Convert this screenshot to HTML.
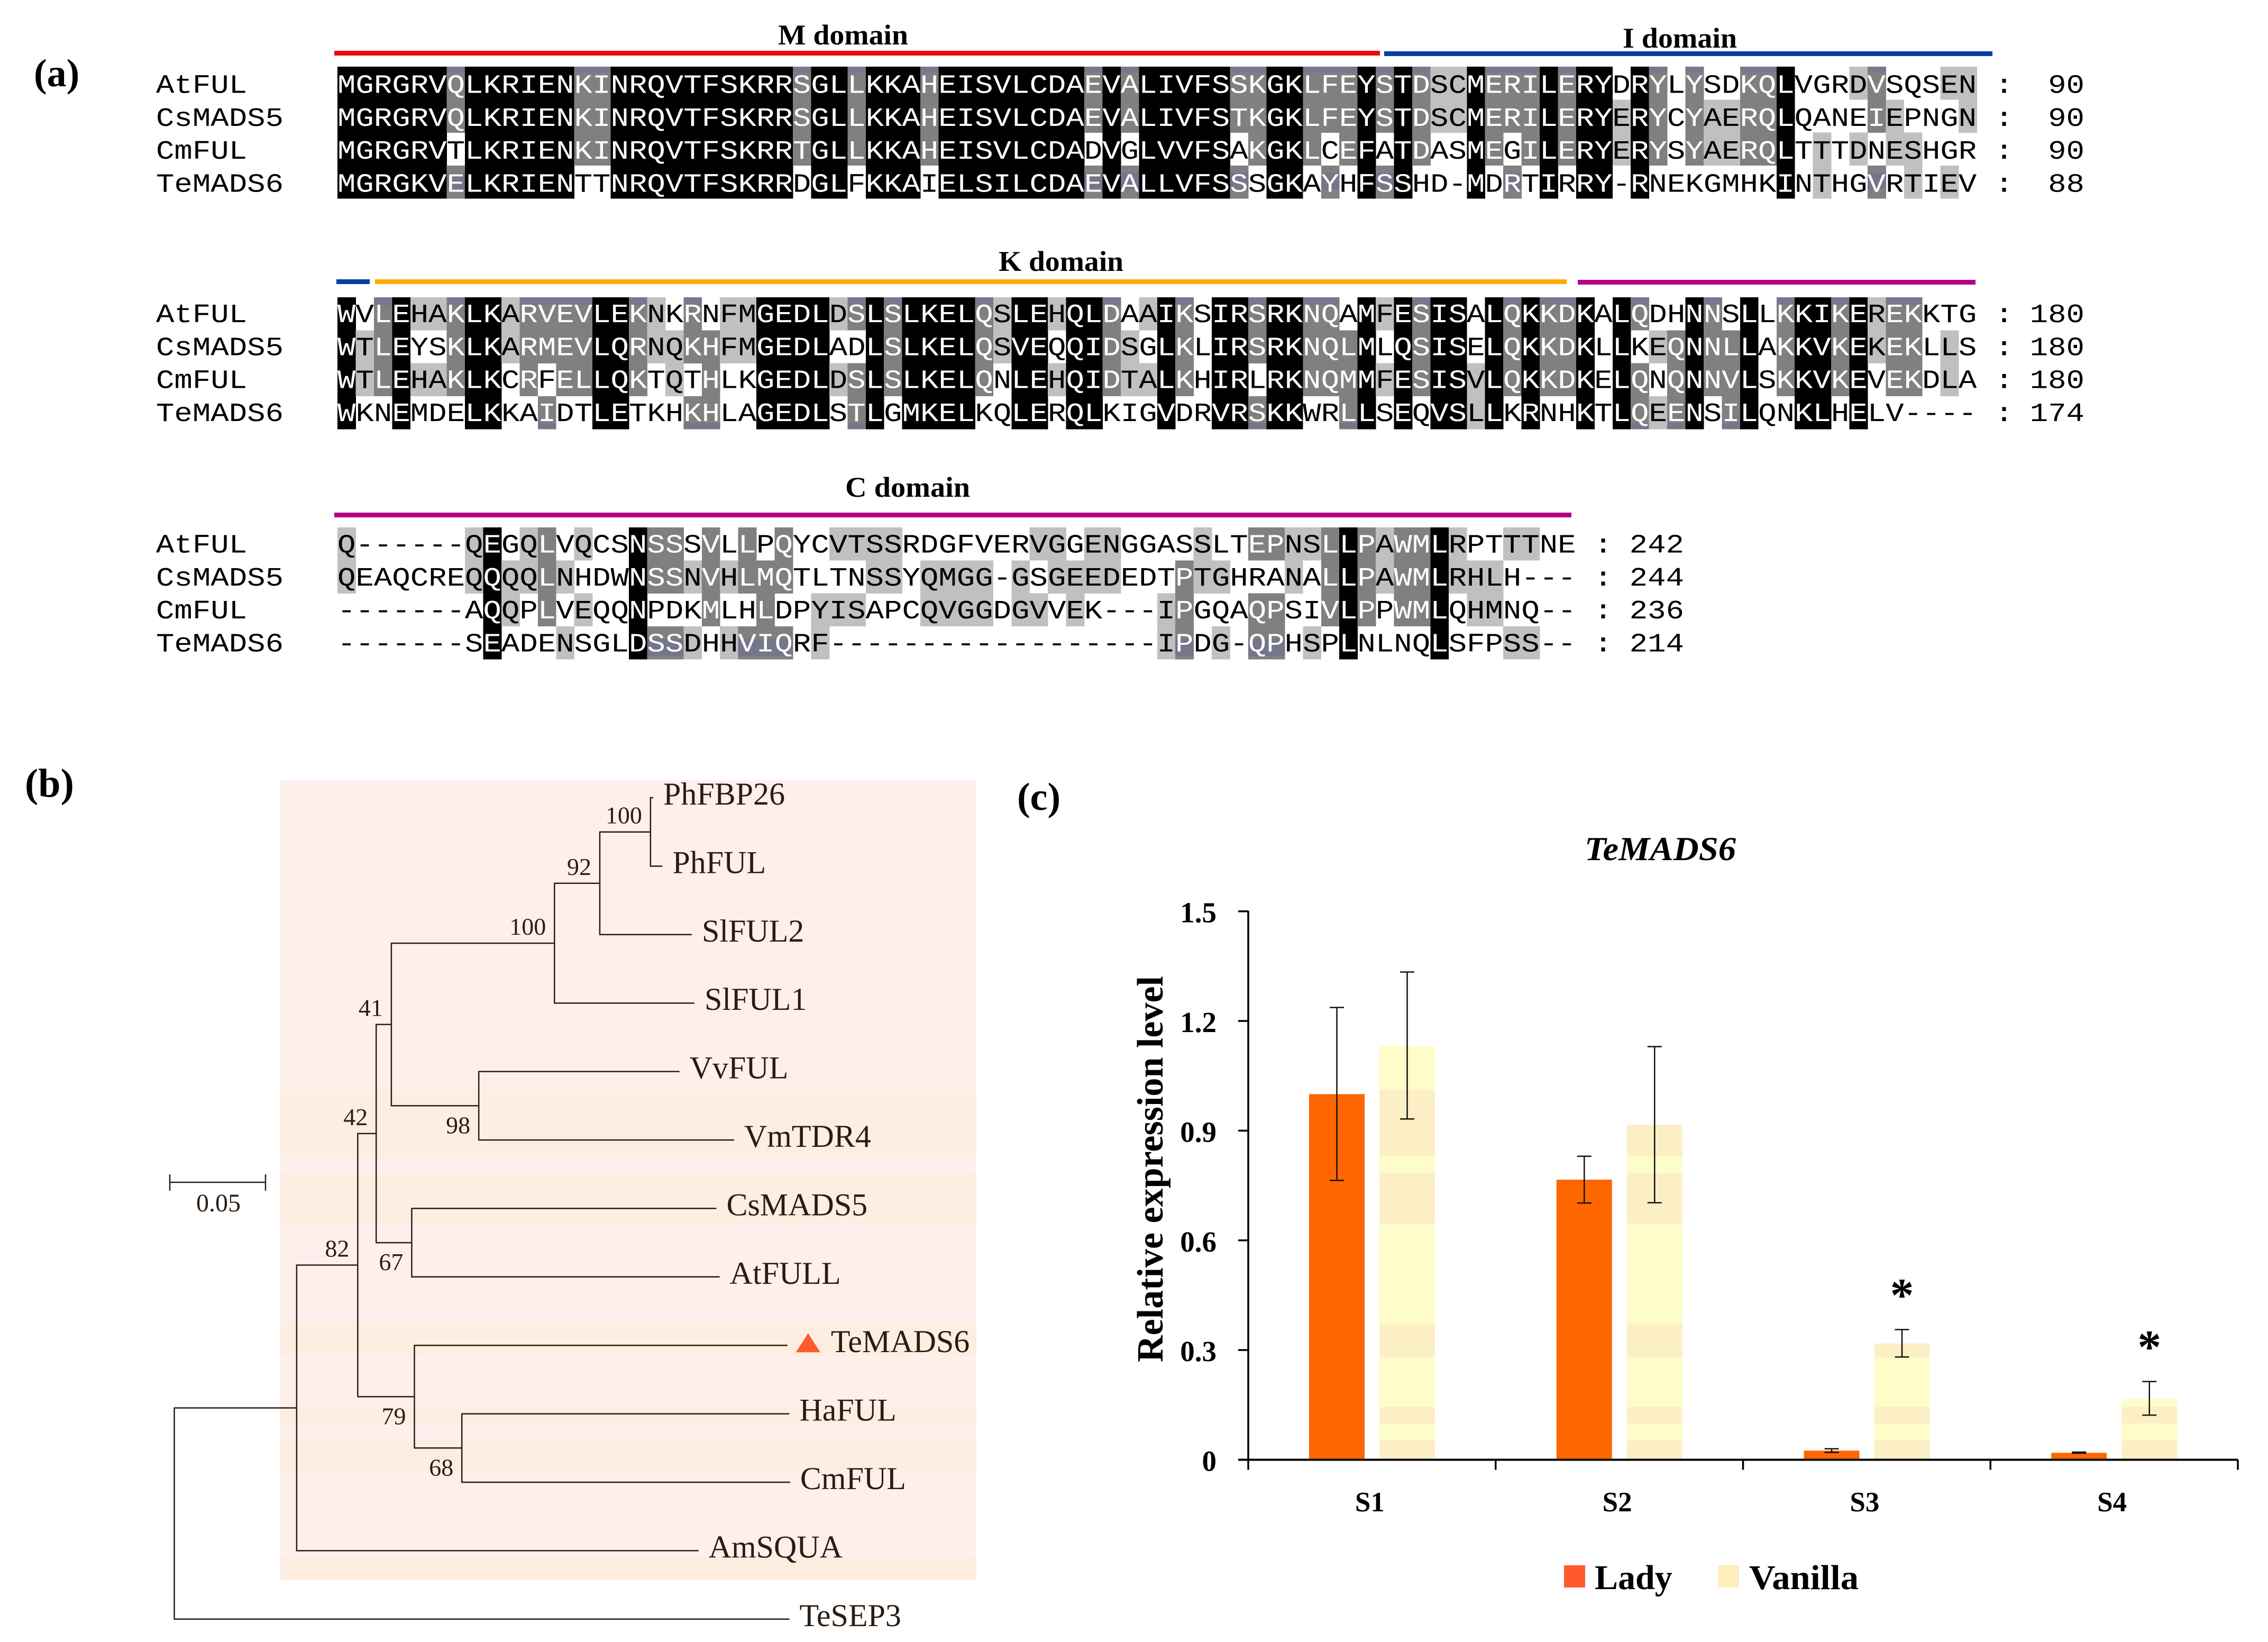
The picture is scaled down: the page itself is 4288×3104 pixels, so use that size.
<!DOCTYPE html>
<html lang="en">
<head>
<meta charset="utf-8">
<title>FUL-like MADS-box alignment, phylogeny and expression</title>
<style>
html,body{margin:0;padding:0;background:#fff;}
svg{display:block;}
.serif{font-family:"Liberation Serif",serif;}
.bold{font-family:"Liberation Serif",serif;font-weight:bold;}
.mono{font-family:"Liberation Mono",monospace;}
</style>
</head>
<body>
<svg id="figure" xmlns="http://www.w3.org/2000/svg" width="4288" height="3104" viewBox="0 0 4288 3104">
  <rect x="0" y="0" width="4288" height="3104" fill="#ffffff"/>
  <text class="bold" x="64" y="163" font-size="74">(a)</text>
  <text class="bold" x="47" y="1506" font-size="76">(b)</text>
  <text class="bold" x="1923" y="1531" font-size="74">(c)</text>

  <rect x="632" y="96" width="1977" height="9" fill="#ee0808"/>
  <rect x="2617" y="97" width="1150" height="9" fill="#0040a0"/>
  <rect x="636" y="528" width="63" height="9" fill="#0040a0"/>
  <rect x="709" y="528" width="2253" height="9" fill="#ffaa00"/>
  <rect x="2983" y="529" width="752" height="9" fill="#b3008a"/>
  <rect x="632" y="969" width="2339" height="9" fill="#b3008a"/>
  <text class="bold" x="1471" y="84" font-size="54" textLength="246" lengthAdjust="spacingAndGlyphs">M domain</text>
  <text class="bold" x="3068" y="90" font-size="54" textLength="216" lengthAdjust="spacingAndGlyphs">I domain</text>
  <text class="bold" x="1888" y="512" font-size="54" textLength="236" lengthAdjust="spacingAndGlyphs">K domain</text>
  <text class="bold" x="1598" y="939" font-size="54" textLength="236" lengthAdjust="spacingAndGlyphs">C domain</text>

  <g id="alignment"></g>

  <g id="tree-panel">
    <rect x="530" y="1475" width="1316" height="1512" fill="#feefed"/>
  </g>
  <g id="tree-bands"></g>
  <g id="tree"></g>
  <g stroke="#2a1c12" stroke-width="2.5" fill="none">
    <line x1="321" y1="2235" x2="502" y2="2235"/>
    <line x1="321" y1="2220" x2="321" y2="2251"/>
    <line x1="502" y1="2220" x2="502" y2="2251"/>
  </g>
  <text class="serif" x="371" y="2290" font-size="48" fill="#2a1c12">0.05</text>

  <defs id="defs"></defs>
  <g id="chart"></g>
  <text class="bold" font-style="italic" x="2996" y="1626" font-size="64" textLength="286" lengthAdjust="spacingAndGlyphs">TeMADS6</text>
  <text class="bold" font-size="70" text-anchor="middle" transform="translate(2198,2210) rotate(-90)" textLength="730" lengthAdjust="spacingAndGlyphs">Relative expression level</text>
  <rect x="2957" y="2959" width="40" height="42" fill="#ff5a2c"/>
  <text class="bold" x="3015" y="3004" font-size="66">Lady</text>
  <rect x="3248" y="2959" width="40" height="42" fill="#fdeebc"/>
  <text class="bold" x="3307" y="3004" font-size="66" textLength="207" lengthAdjust="spacingAndGlyphs">Vanilla</text>
</svg>

<script>
/* ---------- alignment data ---------- */
const speciesNames = ['AtFUL', 'CsMADS5', 'CmFUL', 'TeMADS6'];
const seqBlock1 = [
  'MGRGRVQLKR IENKINRQVT FSKRRSGLLK KAHEISVLCD AEVALIVFSS KGKLFEYSTD SCMERILERY DRYLYSDKQL VGRDVSQSEN',
  'MGRGRVQLKR IENKINRQVT FSKRRSGLLK KAHEISVLCD AEVALIVFST KGKLFEYSTD SCMERILERY ERYCYAERQL QANEIEPNGN',
  'MGRGRVTLKR IENKINRQVT FSKRRTGLLK KAHEISVLCD ADVGLVVFSA KGKLCEFATD ASMEGILERY ERYSYAERQL TTTDNESHGR',
  'MGRGKVELKR IENTTNRQVT FSKRRDGLFK KAIELSILCD AEVALLVFSS SGKAYHFSSH D-MDRTIRRY -RNEKGMHKI NTHGVRTIEV'
];
const shadeBlock1 = [
  'KKKKKKDKKK KKKDDKKKKK KKKKKDKKDK KKDKKKKKKK KDKDKKKKKD DKKDDDKDKD LLKDDDKDKK WKDWDWWDDK WWWLDWWWLL',
  'KKKKKKDKKK KKKDDKKKKK KKKKKDKKDK KKDKKKKKKK KDKDKKKKKD DKKDDDKDKD LLKDDDKDKK LKDWDLLDDK WWWWDLWWWL',
  'KKKKKKWKKK KKKDDKKKKK KKKKKDKKDK KKDKKKKKKK KWKWKKKKKW DKKDWDKWKD WWKDWDKDKK LKDWDLLDDK WLWLWLLWWW',
  'KKKKKKDKKK KKKWWKKKKK KKKKKWKKWK KKWKKKKKKK KDKDKKKKKD WKKWDWKDKW WWKWDWKWKK WKWWWWWWWK WLWWDWLWLW'
];
const countBlock1 = ['90', '90', '90', '88'];
const seqBlock2 = [
  'WVLEHAKLKA RVEVLEKNKR NFMGEDLDSL SLKELQSLEH QLDAAIKSIR SRKNQAMFES ISALQKKDKA LQDHNNSLLK KIKEREKKTG',
  'WTLEYSKLKA RMEVLQRNQK HFMGEDLADL SLKELQSVEQ QIDSGLKLIR SRKNQLMLQS ISELQKKDKL LKEQNNLLAK KVKEKEKLLS',
  'WTLEHAKLKC RFELLQKTQT HLKGEDLDSL SLKELQNLEH QIDTALKHIR LRKNQMMFES ISVLQKKDKE LQNQNNVLSK KVKEVEKDLA',
  'WKNEMDELKK AIDTLETKHK HLAGEDLSTL GMKELKQLER QLKIGVDRVR SKKWRLLSEQ VSLLKRNHKT LQEENSILQN KLHELV----'
];
const shadeBlock2 = [
  'KWDKLLDKKL DDDDKKDLWD WLLKKKKLDK DKKKKDLKKL KKDWLKDWKK DKKDDWKLKD KKWKDKDDKW KDWWKDWKWD KKDKLDDWWW',
  'KLDKWWDKKL DDDDKKDLLD DLLKKKKWWK DKKKKDLKKW KKDLWKDWKK DKKDDDKWKD KKWKDKDDKW KWLDKDDKWD KKDKLDDWLW',
  'KLDKLLDKKW DWDDKKDWLW DWWKKKKLDK DKKKKDWKKL KKDLLKDWKK WKKDDDKLKD KKLKDKDDKW KDWDKDDKWD KKDKWDDWLW',
  'KWWKWWWKKW WDWWKKWWWD DWWKKKKWDK WKKKKWWKKW KKWWWKWWKK DKKWWDKWKW KKLKWKWWKW KDLDKWDKWW KKWKWWWWWW'
];
const countBlock2 = ['180', '180', '180', '174'];
const seqBlock3 = [
  'Q------QEG QLVQCSNSSS VLLPQYCVTS SRDGFVERVG GENGGASSLT EPNSLLPAWM LRPTTTNE',
  'QEAQCREQQQ QLNHDWNSSN VHLMQTLTNS SYQMGG-GSG EEDEDTPTGH RANALLPAWM LRHLH---',
  '-------AQQ PLVEQQNPDK MLHLDPYISA PCQVGGDGVV EK---IPGQA QPSIVLPPWM LQHMNQ--',
  '-------SEA DENSGLDSSD HHVIQRF--- ---------- -----IPDG- QPHSPLNLNQ LSFPSS--'
];
const shadeBlock3 = [
  'LWWWWWWLKW LDWLWWKDDW DWDWDWWLLL LWWWWWWWLL WLLWWWWLWW DDLLDKDLDD KLWWLLWW',
  'LWWWWWWLKL LDLWWWKDDL DLDDDWWWWL LWLLLLWLWL LLLWWWDLLW WWLWDKDLDD KLLLWWWW',
  'WWWWWWWWKL WDWLWWKWWW DWWDWWLLLW WWLLLLWLLW LWWWWLDWWW DDWWDKDWDD KWLLWWWW',
  'WWWWWWWWKW WWLWWWKDDL WLDDDWLWWW WWWWWWWWWW WWWWWLDWLW DDWLWKWWWW KWWWLLWW'
];
const countBlock3 = ['242', '244', '236', '214'];

/* ---------- tree data ---------- */
const taxa = ['PhFBP26','PhFUL','SlFUL2','SlFUL1','VvFUL','VmTDR4','CsMADS5','AtFULL','TeMADS6','HaFUL','CmFUL','AmSQUA','TeSEP3'];
const taxonParents = ['n100b','n100b','n92','n100','n98','n98','n67','n67','n79','n68','n68','nA','root'];
const taxonLengths = [0.0014,0.0062,0.0479,0.0729,0.1045,0.1329,0.1586,0.1603,0.1942,0.1705,0.1709,0.2092,0.3202];
const cladeIds = ['nA','n82','n42','n41','n100','n92','n100b','n98','n67','n79','n68'];
const cladeParents = ['root','nA','n82','n42','n41','n100','n92','n41','n42','n82','n79'];
const cladeLengths = [0.0637,0.0318,0.0096,0.0079,0.0849,0.0236,0.0264,0.0455,0.0185,0.0295,0.0247];
const cladeSupport = [null,82,42,41,100,92,100,98,67,79,68];

/* ---------- bar chart data ---------- */
const stages = ['S1','S2','S3','S4'];
const ladyValues = [1.0,0.766,0.025,0.019];
const ladyUpper = [1.237,0.83,0.03,0.021];
const ladyLower = [0.764,0.702,0.02,0.018];
const vanillaValues = [1.131,0.916,0.318,0.166];
const vanillaUpper = [1.334,1.13,0.356,0.214];
const vanillaLower = [0.932,0.703,0.281,0.122];
const significance = ['','','*','*'];
const yTickValues = [0,0.3,0.6,0.9,1.2,1.5];
const yTickLabels = ['0','0.3','0.6','0.9','1.2','1.5'];
const vanillaStripeBreaks = [1.5,1.012,0.83,0.784,0.646,0.373,0.281,0.144,0.099,0.053,0];

const NS = 'http://www.w3.org/2000/svg';
function mk(tag, attrs, parent) {
  const el = document.createElementNS(NS, tag);
  for (const k in attrs) el.setAttribute(k, attrs[k]);
  parent.appendChild(el);
  return el;
}

/* ---------- alignment drawing ---------- */
const COL_W = 34.44, ROW_H = 62.25, X0 = 638, NAME_X = 295, MONO_SIZE = 50, TEXT_SX = 34.44 / (MONO_SIZE * 0.6001);
const SHADE_COLORS = { K: '#000000', D: '#808080', L: '#c0c0c0', W: '#ffffff' };
const alignmentRoot = document.getElementById('alignment');

function drawBlock(blockName, top, baseOff, seqs, shades, counts, colonX, countRight, topBand, bottomBand) {
  const blockG = mk('g', {}, alignmentRoot);
  
  
  seqs.forEach(function (rawSeq, r) {
    const seq = rawSeq.replace(/ /g, '');
    const shade = shades[r].replace(/ /g, '');
    const y = top + r * ROW_H;
    const base = y + baseOff;
    const rowG = mk('g', {}, blockG);
    
    
    for (let c = 0; c < seq.length; c++) {
      const code = shade[c];
      if (code === 'W') continue;
      const cell = mk('rect', { x: X0 + c * COL_W, y: y, width: COL_W + 0.4, height: ROW_H + 0.4, fill: SHADE_COLORS[code], 'shape-rendering': 'crispEdges' }, rowG);
      
      
      if (code === 'D' && r === 0 && topBand) {
        const band = mk('rect', { x: X0 + c * COL_W, y: y, width: COL_W + 0.4, height: topBand, fill: '#77778e', 'shape-rendering': 'crispEdges' }, rowG);
        
        
      }
      if (code === 'D' && r === 3 && bottomBand) {
        const band2 = mk('rect', { x: X0 + c * COL_W, y: y + bottomBand[0], width: COL_W + 0.4, height: bottomBand[1], fill: '#75758b', 'shape-rendering': 'crispEdges' }, rowG);
        
        
      }
    }
    const nameText = mk('text', { class: 'mono', 'font-size': MONO_SIZE, transform: 'translate(' + NAME_X + ',' + base + ') scale(' + TEXT_SX + ',1)', fill: '#000' }, rowG);
    nameText.textContent = speciesNames[r];
    
    
    const colon = mk('text', { class: 'mono', 'font-size': MONO_SIZE, 'font-weight': 'bold', 'text-anchor': 'middle', x: colonX, y: base, fill: '#000' }, rowG);
    colon.textContent = ':';
    
    
    const seqText = mk('text', { class: 'mono', 'font-size': MONO_SIZE, transform: 'translate(' + X0 + ',' + base + ') scale(' + TEXT_SX + ',1)', 'xml:space': 'preserve' }, rowG);
    
    
    let start = 0;
    for (let c = 1; c <= seq.length; c++) {
      const light = function (i) { return shade[i] === 'K' || shade[i] === 'D'; };
      if (c === seq.length || light(c) !== light(start)) {
        const run = mk('tspan', { fill: light(start) ? '#ffffff' : '#000000' }, seqText);
        run.textContent = seq.slice(start, c);
        start = c;
      }
    }
    const count = mk('text', { class: 'mono', 'font-size': MONO_SIZE, 'text-anchor': 'end', transform: 'translate(' + countRight + ',' + base + ') scale(' + TEXT_SX + ',1)', fill: '#000' }, rowG);
    count.textContent = counts[r];
    
    
  });
}
drawBlock('alignment-block-1', 126, 49.5, seqBlock1, shadeBlock1, countBlock1, 3789, 3941, 11, [14, 31]);
drawBlock('alignment-block-2', 562, 47, seqBlock2, shadeBlock2, countBlock2, 3789, 3941, 15, [51, 10]);
drawBlock('alignment-block-3', 997, 47.5, seqBlock3, shadeBlock3, countBlock3, 3031, 3184, 0, [24, 32]);

/* ---------- tree background bands ---------- */
const bandTops = [2062, 2215, 2501, 2659, 2722, 2941];
const bandBottoms = [2187, 2314, 2563, 2691, 2784, 2987];
const bandsRoot = document.getElementById('tree-bands');
bandTops.forEach(function (t, i) {
  const b = mk('rect', { x: 530, y: t, width: 1316, height: bandBottoms[i] - t, fill: '#fdeee1' }, bandsRoot);
  
  
});

/* ---------- tree drawing ---------- */
const treeRoot = document.getElementById('tree');
const ROOT_X = 329.5, UNIT = 3632, TIP_Y0 = 1508, TIP_STEP = 129.4;
const TREE_INK = '#2a1c12';
const allIds = ['root'].concat(cladeIds);
function childrenOf(id) {
  const kids = [];
  taxa.forEach(function (n, i) { if (taxonParents[i] === id) kids.push({ tip: i }); });
  cladeIds.forEach(function (n, i) { if (cladeParents[i] === id) kids.push({ clade: i }); });
  return kids;
}
function nodeX(id) {
  if (id === 'root') return ROOT_X;
  const i = cladeIds.indexOf(id);
  return nodeX(cladeParents[i]) + cladeLengths[i] * UNIT;
}
function kidY(k) { return k.tip !== undefined ? TIP_Y0 + k.tip * TIP_STEP : nodeY(cladeIds[k.clade]); }
function kidRange(id) {
  const ys = childrenOf(id).map(kidY);
  return [Math.min.apply(null, ys), Math.max.apply(null, ys)];
}
function nodeY(id) { const r = kidRange(id); return (r[0] + r[1]) / 2; }

allIds.forEach(function (id) {
  const x = nodeX(id);
  const r = kidRange(id);
  const v = mk('line', { x1: x, y1: r[0], x2: x, y2: r[1], stroke: TREE_INK, 'stroke-width': 2.5 }, treeRoot);
  
  
});
cladeIds.forEach(function (id, i) {
  const y = nodeY(id);
  const x = nodeX(id);
  const h = mk('line', { x1: nodeX(cladeParents[i]) - 1, y1: y, x2: x, y2: y, stroke: TREE_INK, 'stroke-width': 2.5 }, treeRoot);
  
  
  if (cladeSupport[i] !== null) {
    const siblingYs = childrenOf(cladeParents[i]).map(kidY);
    const isLower = y === Math.max.apply(null, siblingYs);
    const label = mk('text', { class: 'serif', 'font-size': 46, 'text-anchor': 'end', x: x - 16, y: isLower ? y + 52 : y - 16, fill: TREE_INK }, treeRoot);
    label.textContent = String(cladeSupport[i]);
    
    
  }
});
taxa.forEach(function (name, i) {
  const y = TIP_Y0 + i * TIP_STEP;
  const px = nodeX(taxonParents[i]);
  const x = px + taxonLengths[i] * UNIT;
  const h = mk('line', { x1: px - 1, y1: y, x2: x, y2: y, stroke: TREE_INK, 'stroke-width': 2.5 }, treeRoot);
  
  
  const isFocus = name === 'TeMADS6';
  if (isFocus) {
    const tri = mk('polygon', { points: (x + 16) + ',' + (y + 13) + ' ' + (x + 39) + ',' + (y - 23) + ' ' + (x + 62) + ',' + (y + 13), fill: '#ff5a30' }, treeRoot);
    
    
  }
  const t = mk('text', { class: 'serif', 'font-size': 60, x: x + (isFocus ? 82 : 19), y: y + 13, fill: TREE_INK }, treeRoot);
  t.textContent = name;
  
  
});

/* ---------- bar chart drawing ---------- */
const chartRoot = document.getElementById('chart');
const AXIS_X = 2360, AXIS_RIGHT = 4231, Y_ZERO = 2759.5, Y_TOP = 1722.7, Y_MAX = 1.5;
const GROUP_W = (AXIS_RIGHT - AXIS_X) / stages.length;
const BAR_W = 105, BAR_OFFSET = 115, BAR_GAP = 28;
function yScale(v) { return Y_ZERO - (v / Y_MAX) * (Y_ZERO - Y_TOP); }
function barX(i, series) { return AXIS_X + i * GROUP_W + BAR_OFFSET + series * (BAR_W + BAR_GAP); }

const grad = mk('linearGradient', { id: 'vanillaStripes', gradientUnits: 'userSpaceOnUse', x1: 0, x2: 0, y1: yScale(Y_MAX), y2: yScale(0) }, document.getElementById('defs'));
for (let i = 0; i < vanillaStripeBreaks.length - 1; i++) {
  const color = i % 2 === 0 ? '#fefdc9' : '#fcefc6';
  mk('stop', { offset: 1 - vanillaStripeBreaks[i] / Y_MAX, 'stop-color': color }, grad);
  mk('stop', { offset: 1 - vanillaStripeBreaks[i + 1] / Y_MAX, 'stop-color': color }, grad);
}

function drawError(x, hi, lo, name) {
  const cap = 13.5;
  [[x, yScale(hi), x, yScale(lo)], [x - cap, yScale(hi), x + cap, yScale(hi)], [x - cap, yScale(lo), x + cap, yScale(lo)]].forEach(function (p) {
    const l = mk('line', { x1: p[0], y1: p[1], x2: p[2], y2: p[3], stroke: '#111', 'stroke-width': 2.5 }, chartRoot);
    
    
  });
}

stages.forEach(function (stage, i) {
  const lx = barX(i, 0);
  const vx = barX(i, 1);
  const lb = mk('rect', { x: lx, y: yScale(ladyValues[i]), width: BAR_W, height: Y_ZERO - yScale(ladyValues[i]), fill: '#ff6600' }, chartRoot);
  
  
  const vb = mk('rect', { x: vx, y: yScale(vanillaValues[i]), width: BAR_W, height: Y_ZERO - yScale(vanillaValues[i]), fill: 'url(#vanillaStripes)' }, chartRoot);
  
  
  drawError(lx + BAR_W / 2, ladyUpper[i], ladyLower[i], 'error-bar-lady');
  drawError(vx + BAR_W / 2, vanillaUpper[i], vanillaLower[i], 'error-bar-vanilla');
  if (significance[i]) {
    const star = mk('text', { class: 'bold', 'font-size': 90, 'text-anchor': 'middle', x: vx + BAR_W / 2, y: yScale(vanillaUpper[i]) - 35 }, chartRoot);
    star.textContent = significance[i];
    
    
  }
  const lab = mk('text', { class: 'bold', 'font-size': 53, 'text-anchor': 'middle', x: AXIS_X + (i + 0.5) * GROUP_W - 4, y: 2857 }, chartRoot);
  lab.textContent = stage;
  
  
});

const yAxis = mk('line', { x1: AXIS_X, y1: Y_TOP - 1, x2: AXIS_X, y2: Y_ZERO + 2, stroke: '#000', 'stroke-width': 3.5 }, chartRoot);


const xAxis = mk('line', { x1: AXIS_X - 19, y1: Y_ZERO, x2: AXIS_RIGHT, y2: Y_ZERO, stroke: '#000', 'stroke-width': 4 }, chartRoot);


yTickValues.forEach(function (v, i) {
  const tick = mk('line', { x1: AXIS_X - 19, y1: yScale(v), x2: AXIS_X, y2: yScale(v), stroke: '#000', 'stroke-width': 3.5 }, chartRoot);
  
  
  const t = mk('text', { class: 'bold', 'font-size': 55, 'text-anchor': 'end', x: 2300, y: yScale(v) + 21 }, chartRoot);
  t.textContent = yTickLabels[i];
  
  
});
for (let i = 0; i <= stages.length; i++) {
  const tx = AXIS_X + i * GROUP_W;
  const tick = mk('line', { x1: tx, y1: Y_ZERO, x2: tx, y2: Y_ZERO + 19, stroke: '#000', 'stroke-width': 3.5 }, chartRoot);
  
  
}
</script>
</body>
</html>
